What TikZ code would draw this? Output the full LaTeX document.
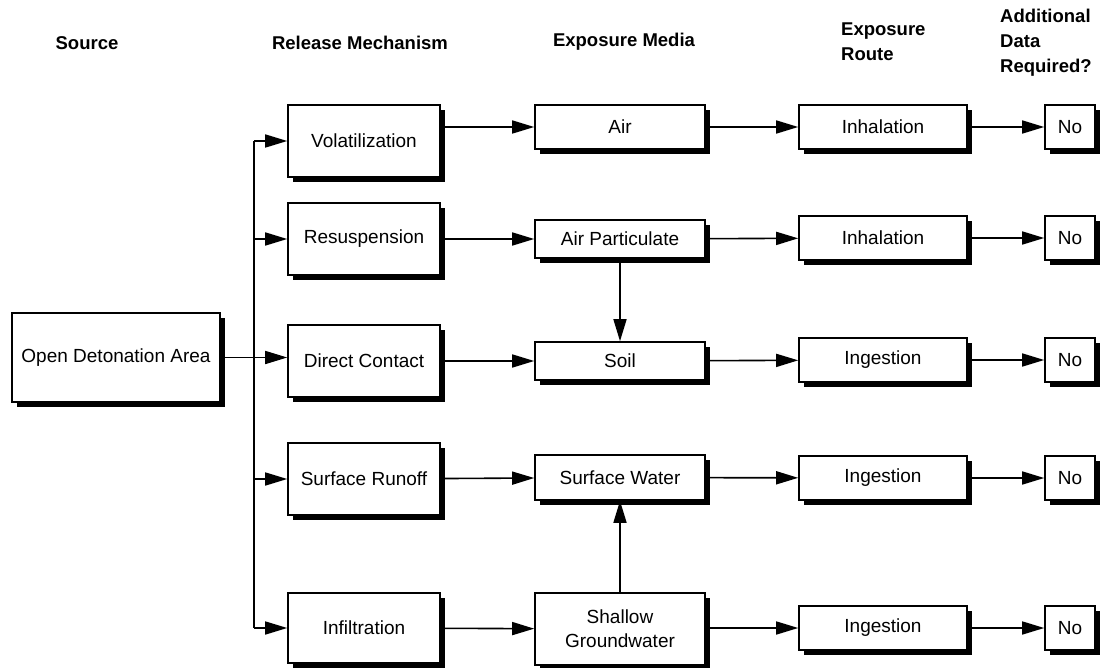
\documentclass[tikz,border=0pt]{standalone}
\usepackage{fontspec}
\setmainfont{Liberation Sans}
\usetikzlibrary{arrows.meta,shadows}
\begin{document}
\begin{tikzpicture}[
      x=1pt,
      y=-1pt,
      box/.style={draw,line width=1.6pt,fill=white,align=center,inner sep=0pt,
        font=\fontsize{19}{24}\selectfont,
        drop shadow={shadow xshift=5pt,shadow yshift=-5pt,opacity=1,fill=black}},
      release/.style={box,minimum width=152pt,minimum height=72pt},
      media/.style={box,minimum width=170pt},
      route/.style={box,minimum width=168pt,minimum height=44pt},
      answer/.style={box,minimum width=50pt,minimum height=44pt},
      head/.style={font=\fontsize{18.5}{25}\selectfont\bfseries,align=left,inner sep=0pt},
      arr/.style={line width=1.6pt,-{Triangle[length=22pt,width=13pt]}}
    ]
    \useasboundingbox (0,0) rectangle (1102,668);

    \node[head] (hsrc) at (87,43) {Source};
    \node[head] (hrel) at (360,43) {Release Mechanism};
    \node[head] (hmed) at (624,42) {Exposure Media};
    \node[head,anchor=west] (hrte) at (841,42) {Exposure\\Route};
    \node[head,anchor=west] (hadd) at (1000,43) {Additional\\Data\\Required?};

    \node[box,minimum width=208pt,minimum height=89pt] (src) at (116,357.5)
    {Open Detonation Area};

    \node[release] (vol) at (364,141) {Volatilization};
    \node[release] (res) at (364,239) {Resuspension};
    \node[release] (dc) at (364,361) {Direct Contact};
    \node[release] (sr) at (364,479) {Surface Runoff};
    \node[release,minimum height=70pt] (inf) at (364,628) {Infiltration};

    \node[media,minimum height=44pt] (air) at (620,127) {Air};
    \node[media,minimum height=38pt] (airp) at (620,239) {Air Particulate};
    \node[media,minimum height=38pt] (soil) at (620,361) {Soil};
    \node[media,minimum height=45pt] (sw) at (620,477.5) {Surface Water};
    \node[media,minimum height=72pt] (gw) at (620,629) {Shallow\\Groundwater};

    \node[route] (inh1) at (883,127) {Inhalation};
    \node[route] (inh2) at (883,238) {Inhalation};
    \node[route] (ing1) at (883,360) {Ingestion};
    \node[route] (ing2) at (883,478) {Ingestion};
    \node[route] (ing3) at (883,628) {Ingestion};

    \node[answer] (no1) at (1070,127) {No};
    \node[answer] (no2) at (1070,238) {No};
    \node[answer] (no3) at (1070,360) {No};
    \node[answer] (no4) at (1070,478) {No};
    \node[answer] (no5) at (1070,628) {No};

    \coordinate (bus) at (254,0);
    \draw[line width=1.6pt] (bus |- vol) -- (bus |- inf);
    \draw[arr] (src.east) -- (src.east -| dc.west);
    \foreach \r in {vol,res,sr,inf}
      \draw[arr] (bus |- \r) -- (\r.west);

    \draw[arr] (vol.east |- air) -- (air.west);
    \draw[arr] (res) -- (airp);
    \draw[arr] (dc) -- (soil);
    \draw[arr] (sr) -- (sw);
    \draw[arr] (inf) -- (gw);
    \draw[arr] (airp) -- (soil);
    \draw[arr] (gw) -- (sw);

    \draw[arr] (air) -- (inh1);
    \draw[arr] (airp) -- (inh2);
    \draw[arr] (soil) -- (ing1);
    \draw[arr] (sw) -- (ing2);
    \draw[arr] (gw.east |- ing3) -- (ing3.west);

    \foreach \a/\b in {inh1/no1,inh2/no2,ing1/no3,ing2/no4,ing3/no5}
      \draw[arr] (\a) -- (\b);
  \end{tikzpicture}
\end{document}
